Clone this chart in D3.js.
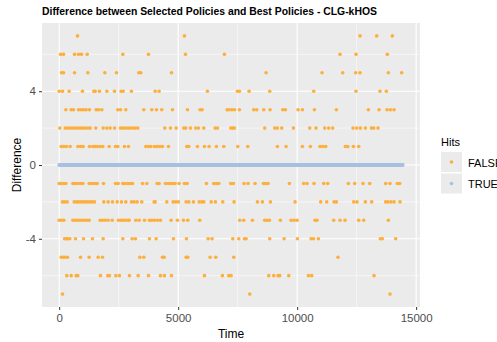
<!DOCTYPE html>
<html lang="en">
<head>
<meta charset="UTF-8">
<title>Difference between Selected Policies and Best Policies - CLG-kHOS</title>
<style>
  body { margin: 0; background: #fff; }
  text { font-family: "Liberation Sans", Arial, sans-serif; }
</style>
</head>
<body>
<script src="https://d3js.org/d3.v7.min.js"></script>
<script>
// times (x) of the FALSE hits, one array per difference value
var timesP7 = [770, 5264, 12642, 13342, 14000];
var timesP6 = [56, 182, 644, 812, 938, 1176, 2674, 3752, 5306, 6944, 11802, 12474, 13790];
var timesP5 = [98, 182, 644, 1204, 1918, 2408, 3346, 3430, 4718, 8694, 11046, 11914, 12460, 12642, 13832, 14392];
var timesP4 = [0, 140, 420, 980, 1456, 1512, 1694, 2002, 2324, 2604, 2688, 3038, 4032, 4200, 6230, 7490, 7574, 7980, 8848, 10696, 12474, 13482, 13748];
var timesP3 = [280, 504, 602, 812, 924, 1022, 1134, 1274, 1554, 1652, 1792, 2464, 2576, 2800, 3556, 3892, 4088, 4312, 4760, 5390, 5922, 6006, 7056, 7140, 7252, 7364, 7574, 8176, 8302, 8596, 8862, 9394, 9506, 10038, 10220, 10724, 11648, 12992, 13440, 13776, 13916, 14070];
var timesP2 = [28, 252, 364, 462, 560, 672, 784, 882, 980, 1092, 1204, 1302, 1540, 1848, 2002, 2142, 2324, 2576, 2674, 2772, 2884, 2982, 3094, 3206, 3304, 4438, 4676, 4914, 5236, 5320, 5516, 5740, 5852, 6076, 6552, 6650, 7210, 7294, 7364, 8638, 9058, 9170, 9352, 9842, 10528, 10794, 11158, 11326, 11494, 12348, 12502, 12656, 12866, 13118, 13216, 13398];
var timesP1 = [84, 196, 308, 462, 784, 896, 1008, 1274, 1414, 1512, 1610, 1722, 1834, 2100, 2366, 2464, 2744, 2912, 3640, 3752, 3850, 4004, 4116, 4228, 4340, 4592, 5362, 5446, 5810, 6104, 6300, 6608, 6916, 7504, 7924, 9170, 9534, 10220, 10556, 10962, 11074, 11200, 12026, 12124, 12362, 12586];
var timesM1 = [0, 84, 196, 280, 574, 672, 784, 896, 994, 1260, 1372, 1484, 1596, 1862, 2366, 2478, 2674, 2772, 2884, 2982, 3080, 3500, 3682, 4116, 4200, 4466, 4578, 4676, 4774, 4872, 5040, 5264, 5376, 6188, 6496, 6608, 6706, 7210, 7322, 7770, 7938, 8232, 8582, 8666, 8778, 9674, 10276, 10416, 10710, 11116, 11284, 12152, 12418, 12768, 13048, 13720, 13902, 14210, 14308];
var timesM2 = [140, 224, 336, 630, 728, 812, 910, 1008, 1106, 1204, 1302, 1386, 1484, 1876, 2058, 2240, 2436, 2618, 2800, 3038, 3150, 3276, 3472, 3990, 4032, 4522, 4788, 4900, 5012, 5334, 5446, 5642, 5880, 5992, 6076, 6384, 6566, 6874, 7350, 8330, 8540, 8876, 9912, 10990, 11242, 11550, 11648, 12376, 12516, 12866, 13132, 13720, 13818, 13944, 14070, 14322];
var timesM3 = [0, 98, 196, 574, 672, 770, 868, 966, 1064, 1162, 1260, 1722, 1820, 1932, 2058, 2226, 2492, 2590, 2674, 2772, 2884, 2940, 3220, 3360, 3584, 3794, 3892, 4004, 4130, 4256, 4704, 4970, 5222, 5404, 5908, 7588, 7756, 8120, 8638, 8736, 8834, 9296, 9744, 9870, 9996, 10752, 10836, 11536, 11802, 12012, 12586, 12796, 13832];
var timesM4 = [224, 294, 364, 448, 686, 1022, 1400, 1848, 2674, 3066, 3206, 3794, 4074, 4802, 5348, 6258, 6426, 7294, 7546, 7784, 7854, 8848, 9450, 10010, 10584, 10682, 10892, 13496, 13580, 14140];
var timesM5 = [84, 168, 252, 350, 896, 1260, 1638, 1820, 3388, 3556, 4340, 4410, 5334, 5404, 6342, 6580, 7336, 11718];
var timesM6 = [322, 504, 714, 784, 1736, 2044, 2114, 2380, 2534, 2954, 3318, 3752, 4256, 4424, 4718, 6104, 6860, 7126, 7224, 8806, 9016, 9198, 9268, 9646, 10472, 10612, 13230];
var timesM7 = [140, 8008, 13902];

// TRUE hits (difference 0) run continuously over this span
var trueSpan = [0, 14440];

var xTicks = [0, 5000, 10000, 15000];
var yTicks = [-4, 0, 4];
var legendLabels = ["FALSE", "TRUE"];
var colors = { "FALSE": "#FDAF3E", "TRUE": "#A9BFDF" };

var rows = [
  [7, timesP7], [6, timesP6], [5, timesP5], [4, timesP4], [3, timesP3], [2, timesP2], [1, timesP1],
  [-1, timesM1], [-2, timesM2], [-3, timesM3], [-4, timesM4], [-5, timesM5], [-6, timesM6], [-7, timesM7]
];
var falsePoints = [];
rows.forEach(function (r) {
  r[1].forEach(function (t) { falsePoints.push({ time: t, diff: r[0] }); });
});

var W = 497, H = 342;
var panel = { left: 42, right: 420, top: 23, bottom: 307 };

var svg = d3.select("body").append("svg")
  .attr("width", W).attr("height", H);

svg.append("rect").attr("width", W).attr("height", H).attr("fill", "#fff");

// ggplot style 5% expansion
var xMin = 0, xMax = trueSpan[1];
var xPad = (xMax - xMin) * 0.05;
var x = d3.scaleLinear().domain([xMin - xPad, xMax + xPad]).range([panel.left, panel.right]);
var y = d3.scaleLinear().domain([-7.7, 7.7]).range([panel.bottom, panel.top]);

svg.append("rect")
  .attr("x", panel.left).attr("y", panel.top)
  .attr("width", panel.right - panel.left).attr("height", panel.bottom - panel.top)
  .attr("fill", "#EBEBEB");

var grid = svg.append("g");
var xMinor = [2500, 7500, 12500];
var yMinor = [-6, -2, 2, 6];
grid.selectAll(".xminor").data(xMinor).enter().append("line")
  .attr("x1", function (d) { return x(d); }).attr("x2", function (d) { return x(d); })
  .attr("y1", panel.top).attr("y2", panel.bottom)
  .attr("stroke", "#fff").attr("stroke-width", 0.55);
grid.selectAll(".yminor").data(yMinor).enter().append("line")
  .attr("y1", function (d) { return y(d); }).attr("y2", function (d) { return y(d); })
  .attr("x1", panel.left).attr("x2", panel.right)
  .attr("stroke", "#fff").attr("stroke-width", 0.55);
grid.selectAll(".xmajor").data(xTicks).enter().append("line")
  .attr("x1", function (d) { return x(d); }).attr("x2", function (d) { return x(d); })
  .attr("y1", panel.top).attr("y2", panel.bottom)
  .attr("stroke", "#fff").attr("stroke-width", 1.1);
grid.selectAll(".ymajor").data(yTicks).enter().append("line")
  .attr("y1", function (d) { return y(d); }).attr("y2", function (d) { return y(d); })
  .attr("x1", panel.left).attr("x2", panel.right)
  .attr("stroke", "#fff").attr("stroke-width", 1.1);

// TRUE series: dense points at 0 that merge into a band
var trueLine = d3.line().x(function (d) { return x(d); }).y(function () { return y(0); });
svg.append("path")
  .attr("d", trueLine(trueSpan))
  .attr("stroke", colors.TRUE).attr("stroke-width", 3.8)
  .attr("stroke-linecap", "round").attr("fill", "none");

svg.append("g").selectAll("circle").data(falsePoints).enter().append("circle")
  .attr("cx", function (d) { return x(d.time); })
  .attr("cy", function (d) { return y(d.diff); })
  .attr("r", 1.8)
  .attr("fill", colors.FALSE);

// axes
var xAxis = svg.append("g")
  .attr("transform", "translate(0," + panel.bottom + ")")
  .call(d3.axisBottom(x).tickValues(xTicks).tickSize(3).tickPadding(4).tickFormat(d3.format("d")));
var yAxis = svg.append("g")
  .attr("transform", "translate(" + panel.left + ",0)")
  .call(d3.axisLeft(y).tickValues(yTicks).tickSize(3).tickPadding(3).tickFormat(d3.format("d")));
[xAxis, yAxis].forEach(function (a) {
  a.select(".domain").remove();
  a.selectAll(".tick line").attr("stroke", "#333").attr("stroke-width", 1);
  a.selectAll(".tick text").attr("fill", "#4D4D4D")
    .style("font-family", "'Liberation Sans', Arial, sans-serif").style("font-size", "11.5px");
});
yAxis.selectAll(".tick text").text(function (d) { return d < 0 ? "-" + Math.abs(d) : d; });

svg.append("text")
  .attr("x", (panel.left + panel.right) / 2).attr("y", 338)
  .attr("text-anchor", "middle").attr("font-size", 12).attr("fill", "#000")
  .text("Time");
svg.append("text")
  .attr("transform", "translate(21," + ((panel.top + panel.bottom) / 2) + ") rotate(-90)")
  .attr("text-anchor", "middle").attr("font-size", 12).attr("fill", "#000")
  .text("Difference");

svg.append("text")
  .attr("x", panel.left).attr("y", 15)
  .attr("font-size", 10.4).attr("font-weight", "bold").attr("fill", "#000")
  .text("Difference between Selected Policies and Best Policies - CLG-kHOS");

// legend
var leg = svg.append("g").attr("transform", "translate(441,0)");
leg.append("text").attr("x", 0).attr("y", 146)
  .attr("font-size", 11).attr("fill", "#000").text("Hits");
var items = leg.selectAll(".item").data(legendLabels).enter().append("g")
  .attr("transform", function (d, i) { return "translate(0," + (152 + i * 21.5) + ")"; });
items.append("rect").attr("width", 21).attr("height", 20).attr("fill", "#EBEBEB");
items.append("circle").attr("cx", 10.5).attr("cy", 10).attr("r", 1.8)
  .attr("fill", function (d) { return colors[d]; });
items.append("text").attr("x", 27).attr("y", 14.5)
  .attr("font-size", 11).attr("fill", "#000").text(function (d) { return d; });
</script>
</body>
</html>
